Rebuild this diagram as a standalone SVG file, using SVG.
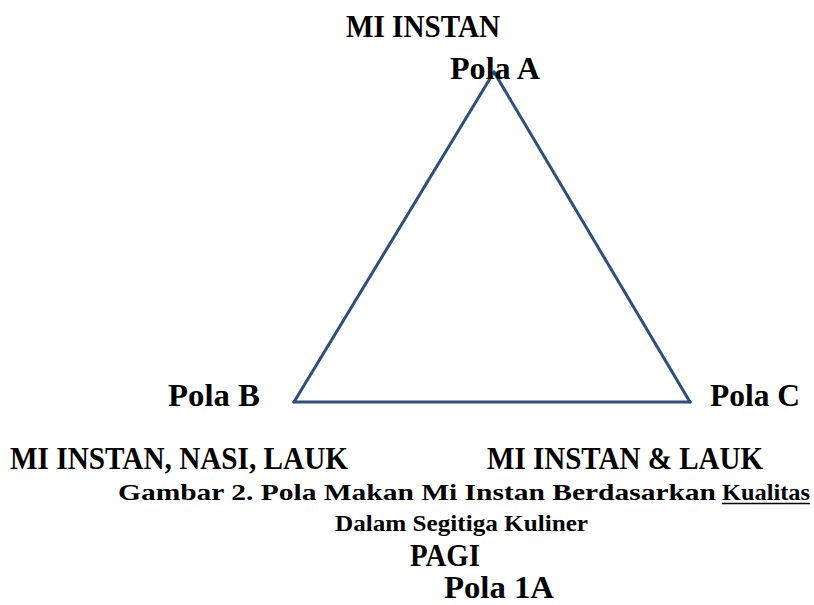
<svg xmlns="http://www.w3.org/2000/svg" width="814" height="605" viewBox="0 0 814 605">
  <style>
    text { font-family: "Liberation Serif", "DejaVu Serif", serif; font-weight: bold; fill: #000; }
    .lbl { font-size: 31px; }
    .cap { font-size: 24px; }
    .edge { stroke: #2C4F7F; stroke-width: 3; fill: none; stroke-linecap: round; }
  </style>
  <rect width="814" height="605" fill="#fff"/>

  <!-- triangle edges -->
  <g id="connectors">
    <line class="edge" x1="494" y1="72" x2="294" y2="402"/>
    <line class="edge" x1="494" y1="72" x2="690" y2="402"/>
    <line class="edge" x1="294" y1="402" x2="690" y2="402"/>
  </g>

  <g id="node-pola-a">
    <text class="lbl" x="346" y="37" textLength="154" lengthAdjust="spacingAndGlyphs">MI INSTAN</text>
    <text class="lbl" x="450" y="79" textLength="90" lengthAdjust="spacingAndGlyphs">Pola A</text>
  </g>

  <g id="node-pola-b">
    <text class="lbl" x="168" y="406" textLength="92" lengthAdjust="spacingAndGlyphs">Pola B</text>
    <text class="lbl" x="10" y="469" textLength="338" lengthAdjust="spacingAndGlyphs">MI INSTAN, NASI, LAUK</text>
  </g>

  <g id="node-pola-c">
    <text class="lbl" x="710" y="406" textLength="90" lengthAdjust="spacingAndGlyphs">Pola C</text>
    <text class="lbl" x="487" y="469" textLength="276" lengthAdjust="spacingAndGlyphs">MI INSTAN &amp; LAUK</text>
  </g>

  <g id="caption">
    <text class="cap" x="118" y="500" textLength="598" lengthAdjust="spacingAndGlyphs">Gambar 2. Pola Makan Mi Instan Berdasarkan</text>
    <text class="cap" x="722" y="500" textLength="88" lengthAdjust="spacingAndGlyphs">Kualitas</text>
    <line x1="722" y1="503.5" x2="810" y2="503.5" stroke="#000" stroke-width="1.5"/>
    <text class="cap" x="335" y="531" textLength="253" lengthAdjust="spacingAndGlyphs">Dalam Segitiga Kuliner</text>
    <text class="lbl" x="410" y="566" textLength="70" lengthAdjust="spacingAndGlyphs">PAGI</text>
    <text class="lbl" x="444" y="598" textLength="110" lengthAdjust="spacingAndGlyphs">Pola 1A</text>
  </g>
</svg>
